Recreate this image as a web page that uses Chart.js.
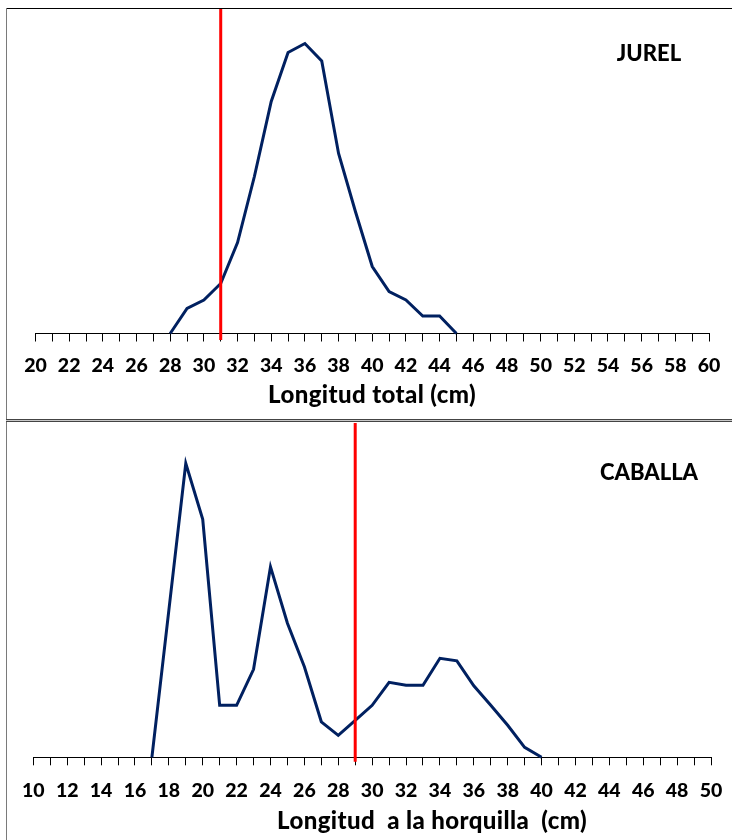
<!DOCTYPE html>
<html>
<head>
<meta charset="utf-8">
<script src="https://cdn.jsdelivr.net/npm/chart.js@4.4.1/dist/chart.umd.min.js"></script>
<style>
  html, body { margin: 0; padding: 0; background: #fff; }
  body { width: 732px; height: 840px; position: relative; overflow: hidden; }
  .panel { position: absolute; left: 0; width: 732px; }
  #p1 { top: 0; height: 420px; }
  #p2 { top: 422px; height: 418px; }
  .topline { position: absolute; left: 6px; top: 8px; width: 726px; height: 1px; background: #000; }
  .leftline { position: absolute; left: 6px; top: 8px; width: 1px; height: 832px; background: #7a7a7a; }
  .sep { position: absolute; left: 6px; top: 419px; width: 726px; height: 1px; background: #444; border-bottom: 1px solid #c8c8c8; }
  .sep2 { position: absolute; left: 6px; top: 421px; width: 726px; height: 1px; background: #444; }
</style>
</head>
<body>
<div class="panel" id="p1"><canvas id="c1"></canvas></div>
<div class="panel" id="p2"><canvas id="c2"></canvas></div>
<div class="topline"></div>
<div class="leftline"></div>
<div class="sep"></div>
<div class="sep2"></div>
<script>
// ---- Data (relative frequency, arbitrary units) ----
const jurelLengths = [28,29,30,31,32,33,34,35,36,37,38,39,40,41,42,43,44,45];
const jurelFreq    = [0,25,33.5,50,91,157,232,281,290,272.5,180,122,67,42,33.5,17.5,17.5,0];
const jurelTallaMinima = 31;

const caballaLengths = [17,18,19,20,21,22,23,24,25,26,27,28,29,30,31,32,33,34,35,36,37,38,39,40];
const caballaFreq    = [0,147,294,238,52,52,88,190.5,134,90.5,35.5,22,37,52,75,72,72,99,96.5,71.5,52,32,10,0];
const caballaTallaMinima = 29;

const jurelTicks = { min: 20, max: 60 };
const caballaTicks = { min: 10, max: 50 };

const jurelLabel = 'JUREL';
const caballaLabel = 'CABALLA';
const jurelAxisTitle = 'Longitud total (cm)';
const caballaAxisTitle = 'Longitud  a la horquilla  (cm)';

const FONT = 'Lato, "Open Sans", sans-serif';
const NAVY = '#002060';
const RED = '#ff0000';

function makeChart(canvasId, lengths, freq, talla, ticks, label, axisTitle, cfg) {
  const points = lengths.map((x, i) => ({ x: x, y: freq[i] }));
  const redLine = [{ x: talla, y: cfg.redBottom }, { x: talla, y: cfg.ymax }];
  const textPlugin = {
    id: 'panelTexts',
    afterDraw(chart) {
      const ctx = chart.ctx;
      ctx.save();
      ctx.fillStyle = '#000';
      ctx.textAlign = 'center';
      ctx.font = '900 22px ' + FONT;
      ctx.textBaseline = 'alphabetic';
      ctx.fillText(label, cfg.labelX, cfg.labelY);
      ctx.font = '900 24px ' + FONT;
      if ('letterSpacing' in ctx) ctx.letterSpacing = '0.4px';
      ctx.textBaseline = 'middle';
      ctx.fillText(axisTitle, cfg.titleX, cfg.titleY);
      ctx.restore();
    }
  };
  return new Chart(document.getElementById(canvasId), {
    type: 'line',
    data: {
      datasets: [
        { data: redLine, borderColor: RED, borderWidth: 3, pointRadius: 0, clip: false, order: 0, borderCapStyle: 'butt' },
        { data: points, borderColor: NAVY, borderWidth: 3, pointRadius: 0, tension: 0, order: 1, clip: false, borderJoinStyle: 'miter' }
      ]
    },
    options: {
      responsive: false,
      animation: false,
      devicePixelRatio: 1,
      layout: { padding: cfg.padding },
      plugins: { legend: { display: false }, tooltip: { enabled: false } },
      scales: {
        x: {
          type: 'linear',
          min: ticks.min, max: ticks.max,
          afterFit(scale) { scale.height = cfg.axisHeight; scale.paddingLeft = 0; scale.paddingRight = 0; },
          border: { display: true, color: '#000', width: 1 },
          grid: { display: true, drawOnChartArea: false, drawTicks: true, tickLength: 8, color: '#000', lineWidth: 1 },
          ticks: {
            stepSize: 1, autoSkip: false, maxRotation: 0, minRotation: 0,
            padding: cfg.tickPad, color: '#000',
            font: { family: FONT, size: 19.5, weight: '900' },
            callback: (v) => (v % 2 === 0 ? String(v) : '')
          },
          title: { display: false }
        },
        y: { display: false, min: 0, max: cfg.ymax }
      }
    },
    plugins: [textPlugin]
  });
}

function sizeCanvas(id, w, h) {
  const c = document.getElementById(id);
  c.width = w; c.height = h;
  c.style.width = w + 'px'; c.style.height = h + 'px';
}
sizeCanvas('c1', 732, 420);
sizeCanvas('c2', 732, 418);

makeChart('c1', jurelLengths, jurelFreq, jurelTallaMinima, jurelTicks, jurelLabel, jurelAxisTitle, {
  padding: { left: 35.5, right: 23, top: 9, bottom: 6.5 },
  axisHeight: 80, tickPad: 12.5,
  ymax: 324.5, redBottom: -6.5,
  labelX: 649, labelY: 61,
  titleX: 372, titleY: 395.5
});
makeChart('c2', caballaLengths, caballaFreq, caballaTallaMinima, caballaTicks, caballaLabel, caballaAxisTitle, {
  padding: { left: 33.3, right: 21, top: 1, bottom: 2.7 },
  axisHeight: 80, tickPad: 13.7,
  ymax: 334.3, redBottom: -4.5,
  labelX: 649, labelY: 58,
  titleX: 432, titleY: 399.3
});
</script>
</body>
</html>
